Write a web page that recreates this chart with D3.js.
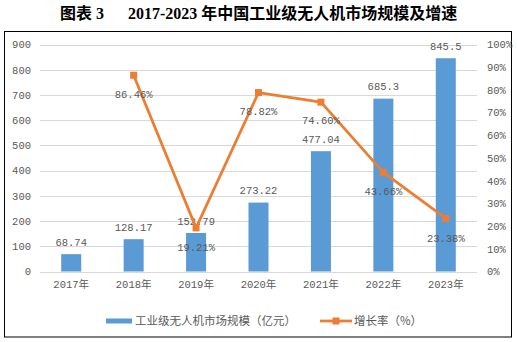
<!DOCTYPE html>
<html><head><meta charset="utf-8">
<script src="https://cdn.jsdelivr.net/npm/d3@7"></script>
<style>body{margin:0;background:#fff}svg{display:block}</style>
</head><body>
<svg id="c" width="517" height="342"></svg>
<script>
const years = ["2017年","2018年","2019年","2020年","2021年","2022年","2023年"];
const marketSize = [68.74,128.17,152.79,273.22,477.04,685.3,845.5];
const marketLabels = ["68.74","128.17","152.79","273.22","477.04","685.3","845.5"];
const growthYears = ["2018年","2019年","2020年","2021年","2022年","2023年"];
const growthRate = [86.46,19.21,78.82,74.60,43.66,23.38];
const growthLabels = ["86.46%","19.21%","78.82%","74.60%","43.66%","23.38%"];
const leftTicks = [0,100,200,300,400,500,600,700,800,900];
const rightTicks = [0,10,20,30,40,50,60,70,80,90,100];
const seriesNames = ["工业级无人机市场规模（亿元）","增长率（%）"];

const svg = d3.select("#c");
const blue = "#5B9BD5", orange = "#ED7D31", txt = "#595959", grid = "#D9D9D9";
const numFont = "'Liberation Mono','Noto Sans CJK SC',monospace";
const cjkFont = "'Noto Sans CJK SC',sans-serif";

// title
svg.append("text").attr("x",60).attr("y",19).attr("font-family","'Liberation Serif','Noto Sans CJK SC',serif")
  .attr("font-weight","bold").attr("font-size",16).attr("fill","#000").text("图表 3");
svg.append("text").attr("x",128).attr("y",19).attr("font-family","'Liberation Serif','Noto Sans CJK SC',serif")
  .attr("font-weight","bold").attr("font-size",16).attr("fill","#000").text("2017-2023 年中国工业级无人机市场规模及增速");

// border
svg.append("rect").attr("x",4.5).attr("y",31.5).attr("width",507).attr("height",305.5)
  .attr("fill","none").attr("stroke","#000").attr("stroke-width",1);

const x = d3.scaleBand().domain(years).range([40,477]).paddingInner(0).paddingOuter(0);
const yL = d3.scaleLinear().domain([0,900]).range([271.5,44.5]);
const yR = d3.scaleLinear().domain([0,100]).range([271.5,44.5]);

// grid
svg.append("g").selectAll("line").data(leftTicks).join("line")
  .attr("x1",40).attr("x2",477).attr("y1",d=>Math.round(yL(d))+0.5).attr("y2",d=>Math.round(yL(d))+0.5)
  .attr("stroke",grid).attr("stroke-width",1);

// left axis
const gl = svg.append("g").attr("transform","translate(31,0)")
  .call(d3.axisLeft(yL).tickValues(leftTicks).tickSize(0).tickPadding(0));
gl.select(".domain").remove();
gl.selectAll("text").attr("font-family",numFont).attr("font-size",10.5).attr("fill",txt);

// right axis
const gr = svg.append("g").attr("transform","translate(487,0)")
  .call(d3.axisRight(yR).tickValues(rightTicks).tickSize(0).tickPadding(0).tickFormat(d=>d+"%"));
gr.select(".domain").remove();
gr.selectAll("text").attr("font-family",numFont).attr("font-size",10.5).attr("fill",txt);

// x axis
const gx = svg.append("g").attr("transform","translate(0,281)")
  .call(d3.axisBottom(x).tickSize(0).tickPadding(0));
gx.select(".domain").remove();
gx.selectAll("text").attr("font-family",numFont).attr("font-size",10.5).attr("fill",txt).attr("dy","0.71em");

// bars
const bw = 20;
svg.append("g").selectAll("rect").data(marketSize).join("rect")
  .attr("x",(d,i)=>x(years[i])+x.bandwidth()/2-bw/2).attr("width",bw)
  .attr("y",d=>yL(d)).attr("height",d=>yL(0)-yL(d)).attr("fill",blue);
svg.append("g").selectAll("text").data(marketSize).join("text")
  .attr("x",(d,i)=>x(years[i])+x.bandwidth()/2).attr("y",d=>yL(d)-12).attr("dy","0.35em")
  .attr("text-anchor","middle").attr("font-family",numFont).attr("font-size",10.5).attr("fill",txt)
  .text((d,i)=>marketLabels[i]);

// line
const cx = i=>x(growthYears[i])+x.bandwidth()/2;
const line = d3.line().x((d,i)=>cx(i)).y(d=>yR(d));
svg.append("path").datum(growthRate).attr("d",line).attr("fill","none")
  .attr("stroke",orange).attr("stroke-width",2.75).attr("stroke-linejoin","round");
svg.append("g").selectAll("rect").data(growthRate).join("rect")
  .attr("x",(d,i)=>cx(i)-3.5).attr("y",d=>yR(d)-3.5).attr("width",7).attr("height",7).attr("fill",orange);
const off = [19,19,19,18,19,20];
svg.append("g").selectAll("text").data(growthRate).join("text")
  .attr("x",(d,i)=>cx(i)).attr("y",(d,i)=>yR(d)+off[i]).attr("dy","0.35em")
  .attr("text-anchor","middle").attr("font-family",numFont).attr("font-size",10.5).attr("fill",txt)
  .text((d,i)=>growthLabels[i]);

// legend
const ly = 321;
svg.append("rect").attr("x",106).attr("y",ly-2.5).attr("width",26).attr("height",5).attr("fill",blue);
svg.append("text").attr("x",135).attr("y",ly).attr("dy","0.35em").attr("font-family",cjkFont)
  .attr("font-size",11.5).attr("fill",txt).text(seriesNames[0]);
svg.append("line").attr("x1",320).attr("x2",352).attr("y1",ly).attr("y2",ly).attr("stroke",orange).attr("stroke-width",2.75);
svg.append("rect").attr("x",332.5).attr("y",ly-3.5).attr("width",7).attr("height",7).attr("fill",orange);
svg.append("text").attr("x",354).attr("y",ly).attr("dy","0.35em").attr("font-family",cjkFont)
  .attr("font-size",11.5).attr("fill",txt).text(seriesNames[1]);
</script>
</body></html>
